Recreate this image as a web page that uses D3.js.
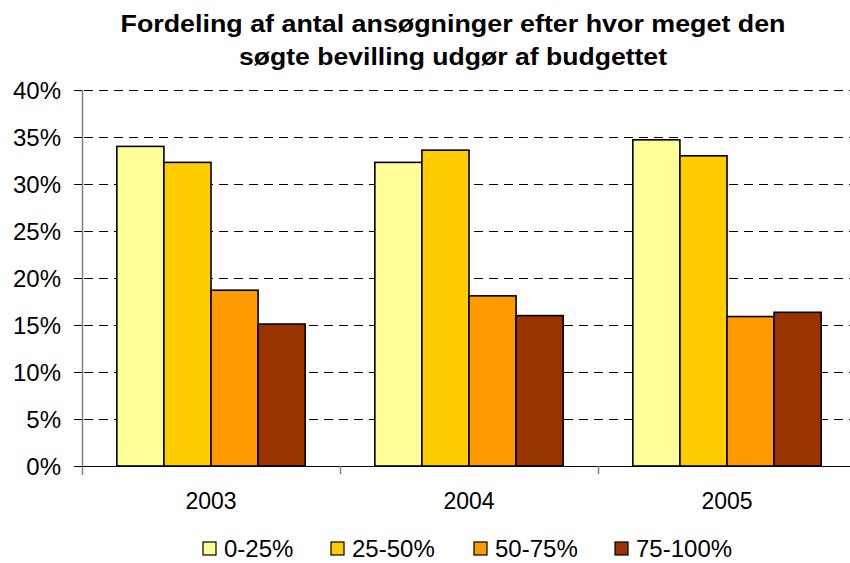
<!DOCTYPE html>
<html>
<head>
<meta charset="utf-8">
<script src="https://cdn.jsdelivr.net/npm/d3@7"></script>
<style>
  body { margin: 0; background: #fff; }
  svg { display: block; font-family: "Liberation Sans", Arial, sans-serif; }
</style>
</head>
<body>
<div class="chart"></div>
<script>
var years = ['2003', '2004', '2005'];
var series = ['0-25%', '25-50%', '50-75%', '75-100%'];
var colors = ['#FFFF99', '#FFCC00', '#FF9900', '#993300'];
// percent per year, one array per series
var s0_25 = [34.0, 32.3, 34.7];
var s25_50 = [32.3, 33.6, 33.0];
var s50_75 = [18.7, 18.1, 15.9];
var s75_100 = [15.1, 16.0, 16.35];
var yTicks = [0, 5, 10, 15, 20, 25, 30, 35, 40];
var titleLines = ['Fordeling af antal ansøgninger efter hvor meget den', 'søgte bevilling udgør af budgettet'];

var values = [s0_25, s25_50, s50_75, s75_100];
var width = 850, height = 563;
var margin = {top: 90, left: 82, bottom: 97};
var plotRight = 856;

var svg = d3.select(".chart")
.append("svg")
.attr("width", width)
.attr("height", height);

var x = d3.scaleBand()
.domain(years)
.range([margin.left, plotRight]);

var inner = d3.scaleBand()
.domain(series)
.range([0, x.bandwidth()])
.paddingOuter(0.74);

var y = d3.scaleLinear()
.domain([0, 40])
.range([height - margin.bottom, margin.top]);

// title (the original is a bit wider than plain Arial bold)
var titleWidths = [665, 428];
svg.append("g")
.selectAll("text")
.data(titleLines)
.enter().append("text")
.attr("x", 453)
.attr("y", function(d, i) { return 32 + i * 33; })
.attr("text-anchor", "middle")
.attr("textLength", function(d, i) { return titleWidths[i]; })
.attr("lengthAdjust", "spacingAndGlyphs")
.style("font-size", "23px")
.style("font-weight", "bold")
.text(function(d) { return d; });

// gridlines
svg.append("g")
.selectAll("line")
.data(yTicks.filter(function(d) { return d > 0; }))
.enter().append("line")
.attr("x1", margin.left + 2)
.attr("x2", width)
.attr("y1", function(d) { return y(d) + 0.5; })
.attr("y2", function(d) { return y(d) + 0.5; })
.style("stroke", "#000")
.style("stroke-width", 1)
.style("stroke-dasharray", "9,6");

// bars
var groups = svg.append("g")
.selectAll("g")
.data(series)
.enter().append("g")
.style("fill", function(d, i) { return colors[i]; });

groups.selectAll("rect")
.data(function(d, i) { return values[i].map(function(v, j) { return {year: years[j], value: v, s: d}; }); })
.enter().append("rect")
.attr("x", function(d) { return x(d.year) + inner(d.s); })
.attr("width", inner.bandwidth())
.attr("y", function(d) { return y(d.value); })
.attr("height", function(d) { return y(0) - y(d.value); })
.style("stroke", "#000")
.style("stroke-width", 1.6);

// y axis
var yAxis = svg.append("g")
.attr("transform", "translate(" + margin.left + ",0)")
.call(d3.axisLeft(y).tickValues(yTicks).tickSize(8).tickFormat(function(d) { return d + "%"; }));
yAxis.select(".domain").attr("d", "M0.5," + y(40) + "V" + (y(0) + 9)).style("stroke", "#808080").style("stroke-width", 1.5);
yAxis.selectAll(".tick line").style("stroke", "#000");
yAxis.selectAll("text")
.attr("x", -21)
.attr("dy", "0.36em")
.style("font-size", "24px")
.style("fill", "#000");

// x axis
var xAxis = svg.append("g")
.attr("transform", "translate(0," + y(0) + ")");
xAxis.append("line")
.attr("x1", margin.left - 8)
.attr("x2", width)
.attr("y1", 0.5).attr("y2", 0.5)
.style("stroke", "#000")
.style("stroke-width", 1.2);
xAxis.selectAll(".sep")
.data(years.slice(1))
.enter().append("line")
.attr("class", "sep")
.attr("x1", function(d) { return x(d) + 0.5; })
.attr("x2", function(d) { return x(d) + 0.5; })
.attr("y1", 0).attr("y2", 8)
.style("stroke", "#808080")
.style("stroke-width", 1.5);
xAxis.selectAll(".lbl")
.data(years)
.enter().append("text")
.attr("class", "lbl")
.attr("x", function(d) { return x(d) + x.bandwidth() / 2; })
.attr("y", 43)
.attr("text-anchor", "middle")
.style("font-size", "23px")
.text(function(d) { return d; });

// legend
var legendX = [203, 331, 474, 615];
var legend = svg.append("g")
.selectAll("g")
.data(series)
.enter().append("g")
.attr("transform", function(d, i) { return "translate(" + legendX[i] + ",542)"; });

legend.append("rect")
.attr("width", 13)
.attr("height", 13)
.style("fill", function(d, i) { return colors[i]; })
.style("stroke", "#000")
.style("stroke-width", 1.2);

legend.append("text")
.attr("x", 21)
.attr("y", 15)
.style("font-size", "24px")
.text(function(d) { return d; });
</script>
</body>
</html>
